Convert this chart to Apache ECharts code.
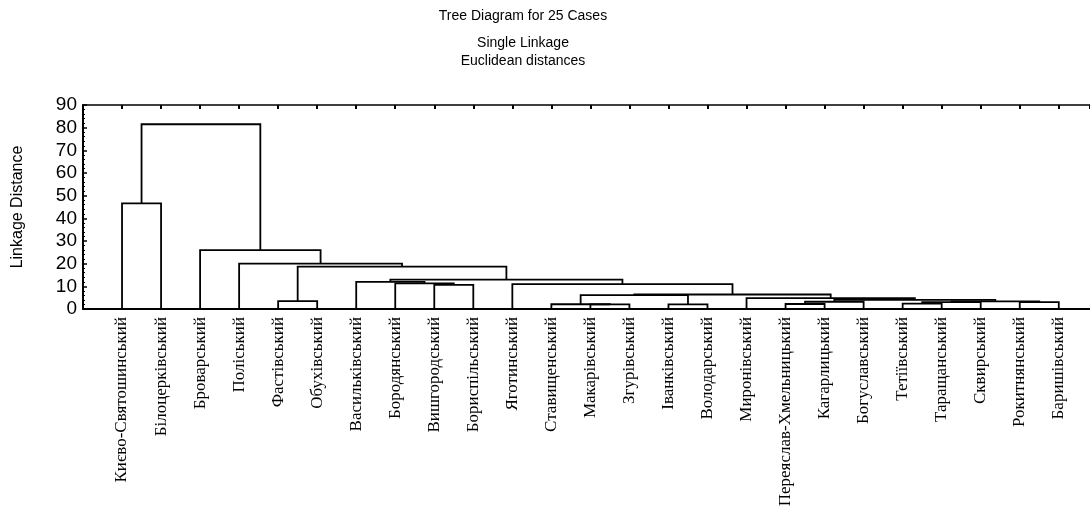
<!DOCTYPE html>
<html>
<head>
<meta charset="utf-8">
<script src="https://cdn.jsdelivr.net/npm/echarts@6/dist/echarts.min.js"></script>
<style>
  html, body { margin: 0; padding: 0; background: #fff; }
  #chart { width: 1090px; height: 518px; }
</style>
</head>
<body>
<div id="chart"></div>
<script>
// листки дерева у порядку зліва направо
const leaves = [
  'Києво-Святошинський', 'Білоцерківський', 'Броварський', 'Поліський',
  'Фастівський', 'Обухівський', 'Васильківський', 'Бородянський',
  'Вишгородський', 'Бориспільський', 'Яготинський', 'Ставищенський',
  'Макарівський', 'Згурівський', 'Іванківський', 'Володарський',
  'Миронівський', 'Переяслав-Хмельницький', 'Кагарлицький', 'Богуславський',
  'Тетіївський', 'Таращанський', 'Сквирський', 'Рокитнянський', 'Баришівський'
];

// об'єднання: номер < 25 - листок, 25 + k - k-те об'єднання
const mergeLeft   = [12, 11, 14, 17, 20, 23, 29, 28, 31, 32, 16, 4, 26, 37, 8, 10, 7, 6, 42, 36, 3, 2, 0, 47];
const mergeRight  = [13, 25, 15, 18, 21, 24, 22, 19, 30, 33, 34, 5, 27, 35, 9, 38, 39, 41, 40, 43, 44, 45, 1, 46];
const mergeHeight = [2.0, 2.1, 2.0, 2.2, 2.4, 3.0, 3.0, 3.2, 3.4, 4.0, 4.8, 3.5, 6.1, 6.4, 10.6, 11.0, 11.3, 12.0, 13.0, 18.7, 20.0, 26.0, 46.6, 81.5];

const yTicks = [0, 10, 20, 30, 40, 50, 60, 70, 80, 90];

// положення "ніжки" кожного кластера (середина горизонталі) і його висота
const n = leaves.length;
const stemX = leaves.map((_, i) => i);
const stemH = leaves.map(() => 0);
const links = [];
for (let k = 0; k < mergeHeight.length; k++) {
  const a = mergeLeft[k], b = mergeRight[k], h = mergeHeight[k];
  links.push([stemX[a], stemH[a], stemX[b], stemH[b], h]);
  stemX[n + k] = (stemX[a] + stemX[b]) / 2;
  stemH[n + k] = h;
}

const chart = echarts.init(document.getElementById('chart'));
const font = 'Liberation Sans, Arial, sans-serif';
const titleStyle = { fontFamily: font, fontSize: 14, fontWeight: 'normal', color: '#000' };

chart.setOption({
  animation: false,
  title: [
    { text: 'Tree Diagram for 25 Cases', left: 518, textAlign: 'center', top: 4, textStyle: titleStyle },
    { text: 'Single Linkage', left: 518, textAlign: 'center', top: 31, textStyle: titleStyle },
    { text: 'Euclidean distances', left: 518, textAlign: 'center', top: 49, textStyle: titleStyle }
  ],
  grid: { left: 83, right: 0, top: 105, bottom: 209 },
  xAxis: [
    {
      type: 'value', min: -1, max: 24.8, interval: 1,
      axisLine: { lineStyle: { color: '#000', width: 2 } },
      axisTick: { show: false },
      splitLine: { show: false },
      axisLabel: {
        rotate: 90, margin: 8, color: '#000',
        fontFamily: 'Liberation Serif, Times New Roman, serif', fontSize: 17,
        showMaxLabel: false,
        formatter: v => (Number.isInteger(v) && v >= 0 && v < n) ? leaves[v] : ''
      }
    },
    {
      type: 'value', position: 'top', min: -1, max: 24.8, interval: 1,
      axisLine: { show: true, onZero: false, lineStyle: { color: '#000', width: 1.5 } },
      axisTick: { show: true, inside: true, length: 4, lineStyle: { color: '#000', width: 2 } },
      axisLabel: { show: false },
      splitLine: { show: false }
    }
  ],
  yAxis: {
    type: 'value', min: 0, max: 90, interval: 10,
    name: 'Linkage Distance', nameLocation: 'middle', nameGap: 57, nameRotate: 90,
    nameTextStyle: { fontFamily: font, fontSize: 16, color: '#000' },
    axisLine: { show: true, onZero: false, lineStyle: { color: '#000', width: 2 } },
    axisTick: { show: true, inside: true, length: 4, lineStyle: { color: '#000', width: 1.5 } },
    minorTick: { show: true, splitNumber: 5, length: 2, lineStyle: { color: '#000' } },
    axisLabel: {
      margin: 6, color: '#000', fontFamily: font, fontSize: 19,
      formatter: v => yTicks.includes(v) ? String(v) : ''
    },
    splitLine: { show: false }
  },
  series: [{
    type: 'custom',
    xAxisIndex: 0,
    data: links,
    encode: { x: [0, 2], y: [1, 3, 4] },
    renderItem: function (params, api) {
      const p1 = api.coord([api.value(0), api.value(1)]);
      const p2 = api.coord([api.value(0), api.value(4)]);
      const p3 = api.coord([api.value(2), api.value(4)]);
      const p4 = api.coord([api.value(2), api.value(3)]);
      return {
        type: 'polyline',
        shape: { points: [p1, p2, p3, p4] },
        style: { fill: null, stroke: '#000', lineWidth: 1.8 }
      };
    }
  }]
});
</script>
</body>
</html>
